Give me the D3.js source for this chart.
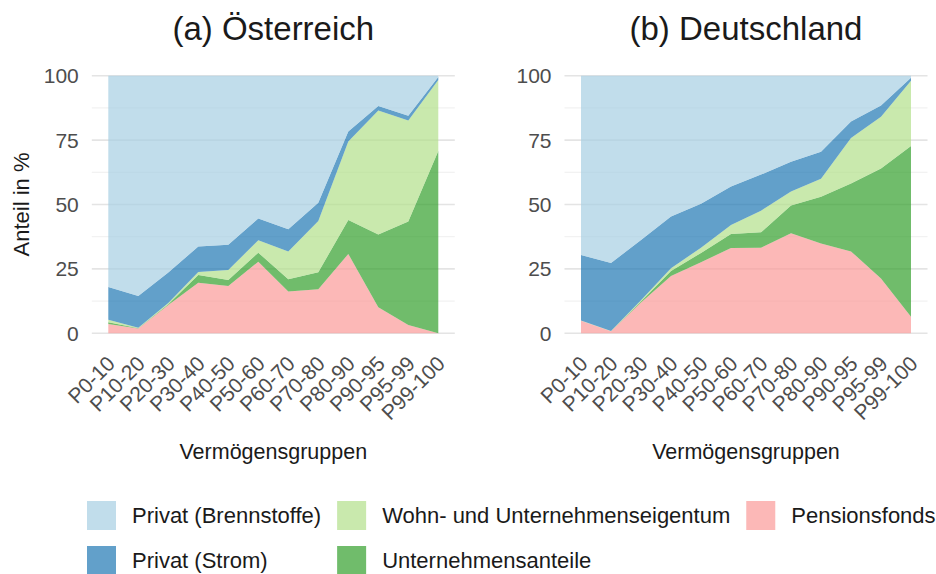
<!DOCTYPE html>
<html><head><meta charset="utf-8">
<script src="https://cdn.jsdelivr.net/npm/d3@7"></script>
<style>
body{margin:0;background:#fff;}
text{font-family:"Liberation Sans",Arial,Helvetica,sans-serif;}
</style>
</head><body>
<svg id="chart" width="936" height="574"></svg>
<script>
// ---- data ----
const categories = ["P0-10","P10-20","P20-30","P30-40","P40-50","P50-60","P60-70","P70-80","P80-90","P90-95","P95-99","P99-100"];
const seriesNames = ["Pensionsfonds","Unternehmensanteile","Wohn- und Unternehmenseigentum","Privat (Strom)","Privat (Brennstoffe)"];
const seriesColors = ["#FB9A99","#33A02C","#B2DF8A","#1F78B4","#A6CEE3"];
const yTicks = [0,25,50,75,100];
const yMinorTicks = [12.5,37.5,62.5,87.5];
const panelTitles = ["(a) Österreich","(b) Deutschland"];
const xAxisTitle = "Vermögensgruppen";
const yAxisTitle = "Anteil in %";

// Österreich
const atPensionsfonds       = [3.6, 1.9, 11.0, 19.6, 18.4, 27.8, 16.2, 17.1, 30.8, 10.1, 3.2, 0.0];
const atUnternehmensanteile = [0.7, 0.1, 0.3, 3.0, 2.3, 3.5, 4.8, 6.6, 13.2, 28.3, 40.2, 70.8];
const atWohnUnternehmen     = [1.0, 0.2, 0.5, 1.2, 3.9, 4.8, 10.8, 19.9, 30.5, 48.1, 39.2, 27.5];
const atStrom               = [12.7, 12.3, 11.8, 9.9, 9.8, 8.5, 8.6, 7.1, 3.8, 1.7, 1.9, 1.2];
const atBrennstoffe         = [82.0, 85.5, 76.4, 66.3, 65.6, 55.4, 59.6, 49.3, 21.7, 11.8, 15.5, 0.5];

// Deutschland
const dePensionsfonds       = [4.9, 0.8, 12.0, 22.2, 27.6, 33.1, 33.2, 38.8, 34.9, 31.8, 21.3, 6.4];
const deUnternehmensanteile = [0.0, 0.0, 0.3, 2.0, 3.6, 5.4, 6.0, 10.8, 18.1, 26.4, 42.7, 66.3];
const deWohnUnternehmen     = [0.1, 0.1, 0.5, 1.1, 2.0, 3.5, 8.4, 5.4, 7.0, 17.6, 20.1, 25.3];
const deStrom               = [25.4, 26.4, 23.4, 20.0, 17.1, 15.0, 14.0, 11.6, 10.5, 6.4, 4.3, 1.2];
const deBrennstoffe         = [69.6, 72.7, 63.8, 54.7, 49.7, 43.0, 38.4, 33.4, 29.5, 17.8, 11.6, 0.8];

// ---- build ----
function rows(arrs){
  return categories.map((c,i)=>{
    const r={cat:c};
    seriesNames.forEach((s,j)=>r[s]=arrs[j][i]);
    return r;
  });
}
const panels = [
  {title:panelTitles[0], data:rows([atPensionsfonds,atUnternehmensanteile,atWohnUnternehmen,atStrom,atBrennstoffe]), x0:108.3, x1:438.3, yLabel:true},
  {title:panelTitles[1], data:rows([dePensionsfonds,deUnternehmensanteile,deWohnUnternehmen,deStrom,deBrennstoffe]), x0:581, x1:911, yLabel:false}
];

const svg = d3.select("#chart");
svg.append("rect").attr("width",936).attr("height",574).attr("fill","#fff");

const y = d3.scaleLinear().domain([0,100]).range([333.3,75.7]);
const color = d3.scaleOrdinal().domain(seriesNames).range(seriesColors);
const stack = d3.stack().keys(seriesNames);

panels.forEach(p=>{
  const x = d3.scalePoint().domain(categories).range([p.x0,p.x1]);
  const ext = (p.x1-p.x0)*0.05;
  const gx0 = p.x0-ext, gx1 = p.x1+ext;
  const g = svg.append("g");

  // grid
  g.selectAll("line.minor").data(yMinorTicks).join("line")
    .attr("x1",gx0).attr("x2",gx1).attr("y1",d=>y(d)).attr("y2",d=>y(d))
    .attr("stroke","#ebebeb").attr("stroke-width",0.8);
  g.selectAll("line.major").data(yTicks).join("line")
    .attr("x1",gx0).attr("x2",gx1).attr("y1",d=>y(d)).attr("y2",d=>y(d))
    .attr("stroke","#e4e4e4").attr("stroke-width",1.6);

  // areas
  const area = d3.area().x(d=>x(d.data.cat)).y0(d=>y(d[0])).y1(d=>y(d[1]));
  g.selectAll("path.layer").data(stack(p.data)).join("path")
    .attr("d",area).attr("fill",d=>color(d.key)).attr("fill-opacity",0.7);

  // y tick labels
  g.selectAll("text.yt").data(yTicks).join("text")
    .attr("x",gx0-13).attr("y",d=>y(d)).attr("dy","0.36em")
    .attr("text-anchor","end").attr("font-size",21).attr("fill","#4d4d4d")
    .text(d=>d);

  // x tick labels
  g.selectAll("text.xt").data(categories).join("text")
    .attr("transform",d=>`translate(${x(d)+8},365) rotate(-45)`)
    .attr("text-anchor","end").attr("font-size",21).attr("fill","#4d4d4d")
    .text(d=>d);

  // x axis title
  g.append("text").attr("x",(gx0+gx1)/2).attr("y",459).attr("text-anchor","middle")
    .attr("font-size",21.5).attr("fill","#1a1a1a").text(xAxisTitle);

  // panel title
  g.append("text").attr("x",(gx0+gx1)/2).attr("y",40).attr("text-anchor","middle")
    .attr("font-size",33).attr("fill","#1a1a1a").text(p.title);

  if(p.yLabel){
    g.append("text").attr("transform",`translate(29,${(y(0)+y(100))/2}) rotate(-90)`)
      .attr("text-anchor","middle").attr("font-size",22).attr("fill","#1a1a1a").text(yAxisTitle);
  }
});

// legend: columns of two rows, order reversed from stack
const legendOrder = seriesNames.slice().reverse();
const leg = svg.append("g");
const rowY = [501, 546];
let cx = 87;
for(let c=0;c*2<legendOrder.length;c++){
  const items = legendOrder.slice(c*2,c*2+2);
  let maxW = 0;
  items.forEach((name,r)=>{
    leg.append("rect").attr("x",cx).attr("y",rowY[r]).attr("width",29).attr("height",29)
      .attr("fill",color(name)).attr("fill-opacity",0.7);
    const t = leg.append("text").attr("x",cx+45).attr("y",rowY[r]+14.5).attr("dy","0.36em")
      .attr("font-size",22).attr("fill","#1a1a1a").text(name);
    maxW = Math.max(maxW, t.node().getComputedTextLength());
  });
  cx = cx + 45 + maxW + 16;
}
</script>
</body></html>
